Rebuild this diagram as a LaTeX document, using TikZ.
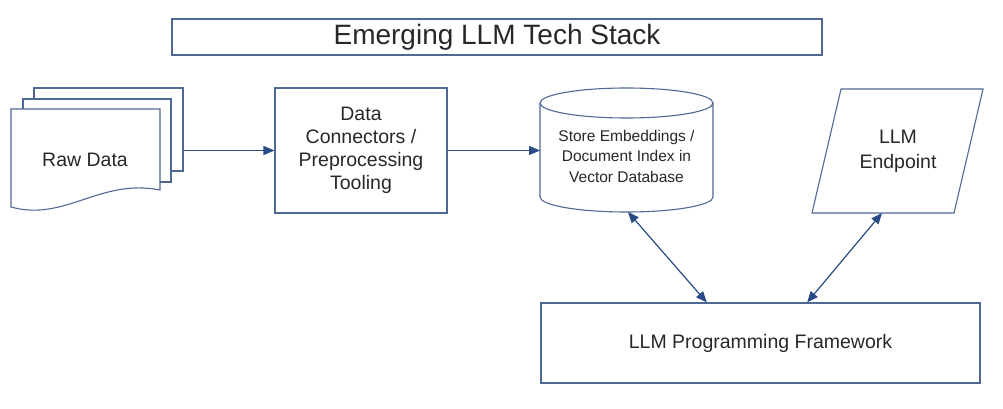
\documentclass[tikz,border=0pt]{standalone}
\usepackage{fontspec}
\setmainfont{Liberation Sans}
\usetikzlibrary{arrows.meta,calc}
\definecolor{edge}{RGB}{80,105,148}
\definecolor{arrc}{RGB}{40,74,135}
\definecolor{txt}{RGB}{40,40,40}
\tikzset{
  outline/.style={draw=edge, line width=1.1pt, fill=white},
  box/.style={outline, rectangle, inner sep=0pt, align=center, text=txt},
  label/.style={inner sep=0pt, align=center, text=txt},
  arr/.style={draw=arrc, line width=1.2pt, -{Triangle[length=11pt,width=9pt]}},
  biarr/.style={draw=arrc, line width=1.2pt, {Triangle[length=11pt,width=9pt]}-{Triangle[length=11pt,width=9pt]}}
}
\begin{document}
\begin{tikzpicture}[x=1pt,y=-1pt]
\useasboundingbox (0,0) rectangle (1003,409);
% title
\node[box, minimum width=650, minimum height=36, font=\fontsize{28}{30}\selectfont] (title) at (497,37) {Emerging LLM Tech Stack};
% raw data (stacked documents)
\node[box, minimum width=149, minimum height=83] (doc3) at (108.5,129.5) {};
\node[box, minimum width=148, minimum height=83] (doc2) at (97,140.5) {};
\draw[outline] (11,109) -- (160,109) -- (160,190) .. controls (100,178) and (65,222) .. (11,207) -- cycle;
\node[label, font=\fontsize{19.5}{22}\selectfont] (raw) at (85,160) {Raw Data};
% data connectors
\node[box, minimum width=172, minimum height=125, font=\fontsize{19.5}{23}\selectfont] (dc) at (361,150.5) {Data\\Connectors /\\Preprocessing\\Tooling};
% vector database cylinder
\draw[outline] (540,103) -- (540,197) arc[start angle=180,end angle=360,x radius=86.5pt,y radius=15pt] -- (713,103) arc[start angle=0,end angle=180,x radius=86.5pt,y radius=15pt] -- cycle;
\draw[draw=edge, line width=1.1pt] (540,103) arc[start angle=180,end angle=360,x radius=86.5pt,y radius=15pt];
\coordinate (dbleft) at (540,150.5);
\coordinate (dbbot) at (628,212);
\node[label, font=\fontsize{15.5}{20.5}\selectfont] (db) at (626.5,156) {Store Embeddings /\\Document Index in\\Vector Database};
% LLM endpoint parallelogram
\draw[outline] (841,89) -- (983,89) -- (954,213) -- (812,213) -- cycle;
\coordinate (epbot) at (882,213);
\node[label, font=\fontsize{19.5}{25}\selectfont] (ep) at (898,151) {LLM\\Endpoint};
% framework
\node[box, minimum width=439, minimum height=80, font=\fontsize{19.5}{22}\selectfont] (fw) at (760.5,343) {LLM Programming Framework};
% connectors
\draw[arr] (doc3.east |- dc.west) -- (dc.west);
\draw[arr] (dc.east) -- (dbleft);
\draw[biarr] (dbbot) -- ($(fw.north west)!0.378!(fw.north east)$);
\draw[biarr] (epbot) -- ($(fw.north west)!0.606!(fw.north east)$);
\end{tikzpicture}
\end{document}
